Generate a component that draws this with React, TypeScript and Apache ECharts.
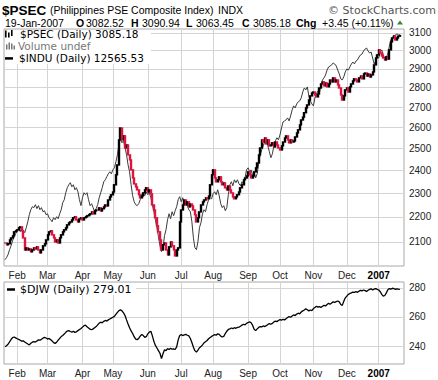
import React, { useEffect, useRef } from 'react';
import * as echarts from 'echarts';

// ---------- data ----------
const startDate = '2006-01-20';
const monthNames = ['Jan', 'Feb', 'Mar', 'Apr', 'May', 'Jun', 'Jul', 'Aug', 'Sep', 'Oct', 'Nov', 'Dec'];

const psecClose = [
  2096, 2089, 2093, 2108, 2116, 2124, 2140, 2144, 2148, 2156,
  2160, 2144, 2116, 2069, 2077, 2069, 2073, 2062, 2069, 2077,
  2073, 2081, 2069, 2058, 2069, 2085, 2093, 2108, 2128, 2140,
  2144, 2128, 2116, 2100, 2108, 2096, 2116, 2128, 2140, 2148,
  2156, 2168, 2176, 2180, 2188, 2197, 2201, 2188, 2180, 2192,
  2197, 2188, 2197, 2201, 2205, 2209, 2213, 2221, 2213, 2225,
  2229, 2229, 2238, 2225, 2234, 2242, 2250, 2246, 2271, 2284,
  2293, 2305, 2336, 2380, 2424, 2540, 2597, 2540, 2559, 2502,
  2516, 2470, 2447, 2402, 2366, 2340, 2327, 2314, 2293, 2280,
  2288, 2301, 2314, 2323, 2305, 2314, 2297, 2250, 2229, 2197,
  2164, 2140, 2108, 2069, 2089, 2096, 2069, 2050, 2081, 2100,
  2085, 2069, 2046, 2069, 2077, 2180, 2229, 2250, 2271, 2250,
  2263, 2242, 2254, 2246, 2229, 2209, 2180, 2197, 2221, 2250,
  2263, 2271, 2280, 2276, 2288, 2336, 2380, 2402, 2366, 2349,
  2358, 2371, 2349, 2336, 2344, 2323, 2314, 2331, 2314, 2301,
  2284, 2276, 2284, 2293, 2305, 2323, 2336, 2358, 2366, 2375,
  2393, 2380, 2366, 2375, 2393, 2411, 2433, 2470, 2502, 2540,
  2530, 2549, 2521, 2540, 2512, 2516, 2526, 2507, 2530, 2516,
  2502, 2493, 2512, 2530, 2549, 2559, 2540, 2526, 2540, 2530,
  2535, 2554, 2573, 2588, 2612, 2636, 2650, 2672, 2696, 2711,
  2736, 2757, 2772, 2777, 2762, 2752, 2767, 2798, 2819, 2830,
  2809, 2824, 2804, 2819, 2840, 2830, 2851, 2830, 2840, 2814,
  2798, 2762, 2736, 2757, 2788, 2798, 2777, 2804, 2819, 2835,
  2846, 2840, 2830, 2851, 2861, 2846, 2872, 2877, 2861, 2872,
  2856, 2867, 2883, 2921, 2959, 2976, 3004, 2987, 2970, 2959,
  2948, 2965, 2953, 3004, 3049, 3071, 3083, 3060, 3071, 3081.73,
  3085.18,
];

const induClose = [
  10669, 10685, 10708, 10747, 10778, 10818, 10849, 10873, 10897, 10913,
  10889, 10921, 10897, 10881, 10921, 10968, 11024, 11064, 11089, 11081,
  11105, 11073, 11097, 11064, 11081, 11048, 11056, 11024, 11032, 11000,
  10984, 10968, 11000, 10984, 11008, 10992, 11032, 11064, 11121, 11145,
  11202, 11243, 11267, 11284, 11251, 11267, 11226, 11243, 11210, 11145,
  11097, 11161, 11202, 11186, 11202, 11145, 11097, 11113, 11081, 11048,
  11073, 11105, 11161, 11202, 11243, 11292, 11308, 11333, 11357, 11374,
  11357, 11390, 11407, 11457, 11516, 11600, 11659, 11617, 11634, 11575,
  11516, 11432, 11374, 11267, 11178, 11129, 11105, 11097, 11113, 11145,
  11186, 11202, 11178, 11210, 11186, 11202, 11161, 11105, 11048, 10984,
  10921, 10849, 10778, 10731, 10762, 10857, 10905, 10984, 11032, 10992,
  11048, 11016, 11056, 11089, 11145, 11170, 11129, 11161, 11105, 11137,
  11097, 11064, 11048, 10968, 10841, 10762, 10747, 10810, 10921, 10960,
  11032, 11064, 11048, 11105, 11145, 11161, 11153, 11194, 11210, 11186,
  11226, 11178, 11113, 11081, 11097, 11056, 11081, 11186, 11267, 11292,
  11259, 11308, 11284, 11308, 11275, 11259, 11292, 11267, 11324, 11390,
  11407, 11374, 11390, 11341, 11366, 11324, 11357, 11449, 11516, 11558,
  11592, 11625, 11634, 11592, 11541, 11491, 11524, 11592, 11634, 11659,
  11642, 11684, 11743, 11794, 11803, 11812, 11829, 11803, 11846, 11898,
  11933, 11915, 11950, 11968, 11977, 12003, 12055, 12090, 12073, 12099,
  12020, 11977, 11950, 11933, 12003, 12038, 12064, 12047, 12126, 12161,
  12179, 12205, 12249, 12276, 12285, 12294, 12312, 12303, 12285, 12249,
  12214, 12170, 12161, 12188, 12232, 12258, 12249, 12276, 12303, 12320,
  12303, 12329, 12338, 12365, 12384, 12392, 12419, 12437, 12446, 12419,
  12401, 12410, 12356, 12303, 12329, 12365, 12356, 12410, 12428, 12384,
  12338, 12365, 12392, 12464, 12520, 12547, 12557, 12566, 12575, 12566,
  12565.53,
];

const djwClose = [
  239.5, 240.2, 241.2, 242.8, 244.5, 245.8, 246.2, 245.6, 245.0, 244.6,
  244.0, 243.4, 243.6, 242.8, 242.1, 241.4, 240.8, 241.9, 242.6, 243.0,
  242.7, 243.5, 244.2, 244.0, 244.6, 245.4, 246.0, 245.5, 244.8, 245.2,
  244.4, 243.5, 242.3, 241.8, 242.6, 244.0, 245.3, 246.5, 247.3, 248.2,
  249.4, 250.3, 250.6, 250.0, 249.6, 250.2, 249.4, 249.8, 250.6, 251.4,
  252.0, 253.0, 254.0, 254.3, 253.2, 252.4, 251.6, 251.2, 251.8, 252.6,
  253.4, 254.6, 255.8, 256.4, 256.0, 257.0, 257.6, 257.2, 258.0, 258.6,
  259.2, 259.8, 260.4, 261.8, 263.2, 264.4, 264.9, 264.2, 262.8, 261.0,
  258.0, 255.2, 252.6, 250.4, 248.6, 246.4, 244.8, 244.4, 245.2, 246.8,
  248.0, 247.2, 246.0, 246.4, 248.4, 249.6, 250.2, 247.0, 243.2, 240.4,
  238.6, 236.8, 235.0, 231.4, 234.6, 237.4, 236.8, 238.2, 237.6, 238.4,
  237.8, 238.0, 237.6, 239.4, 244.2, 247.2, 247.8, 247.2, 247.6, 248.0,
  247.4, 247.0, 245.2, 242.4, 239.2, 236.8, 235.8, 237.2, 238.8, 239.6,
  240.8, 242.2, 243.0, 243.8, 245.0, 245.8, 246.6, 247.2, 247.8, 247.4,
  248.4, 248.0, 246.8, 246.2, 246.6, 248.6, 250.2, 251.4, 251.8, 252.4,
  252.0, 252.6, 252.2, 252.8, 253.0, 253.6, 254.4, 255.0, 254.6, 255.6,
  256.2, 256.6, 256.0, 254.2, 251.6, 250.6, 251.8, 252.8, 253.4, 253.2,
  253.8, 253.4, 254.0, 254.8, 255.4, 255.0, 255.6, 256.6, 257.2, 256.8,
  257.6, 258.2, 257.8, 258.4, 258.0, 258.8, 259.6, 260.2, 259.8, 260.6,
  261.4, 261.0, 262.0, 262.6, 262.2, 263.4, 264.2, 264.8, 265.6, 265.0,
  264.2, 264.8, 264.4, 265.8, 266.6, 267.4, 266.8, 267.2, 266.6, 267.4,
  268.0, 267.6, 268.6, 269.4, 268.8, 269.6, 270.4, 270.0, 270.6, 271.0,
  270.4, 268.6, 268.0, 270.8, 273.2, 274.4, 275.6, 276.2, 276.6, 277.2,
  277.0, 277.4, 277.0, 277.8, 278.4, 278.0, 278.6, 278.2, 277.6, 278.4,
  279.0, 279.4, 278.6, 279.2, 279.6, 279.0, 278.6, 277.4, 275.6, 274.4,
  274.8, 276.6, 278.8, 279.6, 279.2, 279.8, 279.6, 279.0, 279.4, 279.2,
  279.01,
];

const topTicks = [2100, 2200, 2300, 2400, 2500, 2600, 2700, 2800, 2900, 3000, 3100];
const bottomTicks = [240, 260, 280];
const psecRange = [2008, 3123];
const induRange = [10620, 12620];
const djwRange = [227.6, 284.1];

const headerInfo = {
  symbol: '$PSEC',
  name: '(Philippines PSE Composite Index)',
  exch: 'INDX',
  date: '19-Jan-2007',
  open: '3082.52',
  high: '3090.94',
  low: '3063.45',
  close: '3085.18',
  chg: '+3.45 (+0.11%)',
};
const legendTexts = {
  psec: '$PSEC (Daily) 3085.18',
  volume: 'Volume undef',
  indu: '$INDU (Daily) 12565.53',
  djw: '$DJW (Daily) 279.01',
};

// ---------- helpers ----------
function weekdays(start: string, n: number): Date[] {
  const out: Date[] = [];
  const d = new Date(start + 'T00:00:00Z');
  while (out.length < n) {
    const wd = d.getUTCDay();
    if (wd !== 0 && wd !== 6) out.push(new Date(d.getTime()));
    d.setUTCDate(d.getUTCDate() + 1);
  }
  return out;
}

const RED = '#dc1440';
const GRID = '#d4d4d4';
const BORDER = '#a8a8a8';
const AXIS_FONT = '"Liberation Sans", Arial, sans-serif';
const LEG_FONT = '"DejaVu Sans", Verdana, sans-serif';

export default function App() {
  const ref = useRef<HTMLDivElement>(null);

  useEffect(() => {
    if (!ref.current) return;
    const chart = echarts.init(ref.current, undefined, { renderer: 'svg' });

    const n = psecClose.length;
    const dates = weekdays(startDate, n);
    const monthStarts: number[] = [];
    for (let i = 1; i < n; i++) {
      if (dates[i].getUTCMonth() !== dates[i - 1].getUTCMonth()) monthStarts.push(i);
    }
    const labelFor = (v: number) => {
      const d = dates[Math.round(v)];
      if (!d) return '';
      if (d.getUTCMonth() === 0) return '{y|' + d.getUTCFullYear() + '}';
      return monthNames[d.getUTCMonth()];
    };

    const candles = psecClose.map((c, i) => {
      const o = i === 0 ? c : psecClose[i - 1];
      return [i, Math.log(o), Math.log(c), Math.log(Math.min(o, c)), Math.log(Math.max(o, c))];
    });
    const indu = induClose.map((v, i) => [i, Math.log(v)]);
    const djw = djwClose.map((v, i) => [i, v]);

    const xMin = -0.658;
    const xMax = 262.63;

    const xAxisBase = (gridIndex: number) => ({
      type: 'value',
      gridIndex,
      min: xMin,
      max: xMax,
      axisLine: { show: false },
      axisTick: { show: false, customValues: monthStarts },
      splitLine: { show: true, lineStyle: { color: GRID, width: 1 } },
      axisLabel: {
        customValues: monthStarts,
        formatter: labelFor,
        margin: 4,
        fontSize: 10,
        fontFamily: AXIS_FONT,
        color: '#222',
        rich: { y: { fontWeight: 'bold', fontSize: 10, fontFamily: AXIS_FONT, color: '#000' } },
      },
    });

    const topLn = topTicks.map((t) => Math.log(t));

    const txt = (text: string, x: number, y: number, font: string, fill = '#000', align = 'left') => ({
      type: 'text',
      z: 60,
      style: { text, x, y, font, fill, textAlign: align, textVerticalAlign: 'middle' },
    });

    const hdrFont = '10.5px "Liberation Sans", Arial, sans-serif';
    const hdrBold = 'bold 10.5px "Liberation Sans", Arial, sans-serif';
    const legFont = '10.5px ' + LEG_FONT;
    const legFontB = '11px ' + LEG_FONT;

    const option: any = {
      animation: false,
      backgroundColor: '#fff',
      grid: [
        { left: 4, top: 29, width: 400, height: 237, show: true, borderColor: BORDER, borderWidth: 1, backgroundColor: '#fff' },
        { left: 4, top: 282, width: 400, height: 82, show: true, borderColor: BORDER, borderWidth: 1, backgroundColor: '#fff' },
      ],
      xAxis: [xAxisBase(0), xAxisBase(1)],
      yAxis: [
        {
          type: 'value',
          gridIndex: 0,
          position: 'right',
          min: Math.log(psecRange[0]),
          max: Math.log(psecRange[1]),
          axisLine: { show: false },
          axisTick: { show: false, customValues: topLn },
          splitLine: { show: true, lineStyle: { color: GRID, width: 1 } },
          axisLabel: {
            customValues: topLn,
            formatter: (v: number) => String(Math.round(Math.exp(v))),
            margin: 5,
            fontSize: 10,
            fontFamily: AXIS_FONT,
            color: '#222',
          },
        },
        {
          type: 'value',
          gridIndex: 0,
          show: false,
          min: Math.log(induRange[0]),
          max: Math.log(induRange[1]),
          splitLine: { show: false },
        },
        {
          type: 'value',
          gridIndex: 1,
          position: 'right',
          min: djwRange[0],
          max: djwRange[1],
          axisLine: { show: false },
          axisTick: { show: false, customValues: bottomTicks },
          splitLine: { show: true, lineStyle: { color: GRID, width: 1 } },
          axisLabel: {
            customValues: bottomTicks,
            margin: 5,
            fontSize: 10,
            fontFamily: AXIS_FONT,
            color: '#222',
          },
        },
      ],
      series: [
        {
          type: 'line',
          name: 'INDU',
          xAxisIndex: 0,
          yAxisIndex: 1,
          data: indu,
          showSymbol: false,
          symbol: 'none',
          lineStyle: { color: '#3a3a3a', width: 1 },
          z: 3,
        },
        {
          type: 'candlestick',
          name: 'PSEC',
          xAxisIndex: 0,
          yAxisIndex: 0,
          data: candles,
          encode: { x: 0, y: [1, 2, 3, 4] },
          barWidth: 1.5,
          itemStyle: {
            color: '#000',
            color0: RED,
            borderColor: '#000',
            borderColor0: RED,
            borderWidth: 1.4,
          },
          z: 4,
        },
        {
          type: 'line',
          name: 'DJW',
          xAxisIndex: 1,
          yAxisIndex: 2,
          data: djw,
          showSymbol: false,
          symbol: 'none',
          lineStyle: { color: '#000', width: 1.3 },
        },
      ],
      graphic: [
        // header line 1
        txt(headerInfo.symbol, 2, 10, 'bold 13.5px "Liberation Sans", Arial, sans-serif'),
        txt(headerInfo.name, 50, 10, hdrFont),
        txt(headerInfo.exch, 218, 10, hdrFont),
        txt('\u00A9 StockCharts.com', 436, 10, '11px "DejaVu Sans", Verdana, sans-serif', '#555', 'right'),
        // header line 2
        txt(headerInfo.date, 5, 23, hdrFont),
        txt('O', 76, 23, hdrBold),
        txt(headerInfo.open, 86, 23, hdrFont),
        txt('H', 131, 23, hdrBold),
        txt(headerInfo.high, 142, 23, hdrFont),
        txt('L', 186, 23, hdrBold),
        txt(headerInfo.low, 196, 23, hdrFont),
        txt('C', 242, 23, hdrBold),
        txt(headerInfo.close, 253, 23, hdrFont),
        txt('Chg', 296, 23, hdrBold),
        txt(headerInfo.chg, 322, 23, hdrFont),
        { type: 'polygon', z: 60, shape: { points: [[397, 24.5], [403, 24.5], [400, 20.5]] }, style: { fill: '#2e8b2e' } },
        // top legend box
        { type: 'rect', z: 50, shape: { x: 5, y: 30, width: 146, height: 34 }, style: { fill: '#fff' } },
        { type: 'rect', z: 60, shape: { x: 5, y: 30.5, width: 1.6, height: 7 }, style: { fill: '#000' } },
        { type: 'rect', z: 60, shape: { x: 8, y: 32.5, width: 1.6, height: 5 }, style: { fill: '#000' } },
        { type: 'rect', z: 60, shape: { x: 11, y: 30, width: 1.6, height: 6 }, style: { fill: '#000' } },
        { type: 'rect', z: 60, shape: { x: 6, y: 44.5, width: 1.5, height: 5 }, style: { fill: '#777' } },
        { type: 'rect', z: 60, shape: { x: 8.5, y: 42.5, width: 1.5, height: 7 }, style: { fill: '#777' } },
        { type: 'rect', z: 60, shape: { x: 11, y: 43.5, width: 1.5, height: 6 }, style: { fill: '#777' } },
        { type: 'rect', z: 60, shape: { x: 13.5, y: 45.5, width: 1.5, height: 4 }, style: { fill: '#777' } },
        { type: 'line', z: 60, shape: { x1: 5, y1: 58.4, x2: 13, y2: 58.4 }, style: { stroke: '#000', lineWidth: 2.5 } },
        txt(legendTexts.psec, 20, 33.8, legFont),
        txt(legendTexts.volume, 18, 46.1, legFont, '#777'),
        txt(legendTexts.indu, 19, 58.4, legFont),
        // bottom legend
        { type: 'rect', z: 50, shape: { x: 5, y: 283, width: 131, height: 12 }, style: { fill: '#fff' } },
        { type: 'line', z: 60, shape: { x1: 7, y1: 289.5, x2: 15, y2: 289.5 }, style: { stroke: '#000', lineWidth: 2.5 } },
        txt(legendTexts.djw, 20, 289.5, legFontB),
      ],
    };

    chart.setOption(option);
    return () => chart.dispose();
  }, []);

  return (
    <div
      ref={ref}
      style={{ position: 'absolute', left: 0, top: 0, width: 438, height: 380, background: '#fff' }}
    />
  );
}
